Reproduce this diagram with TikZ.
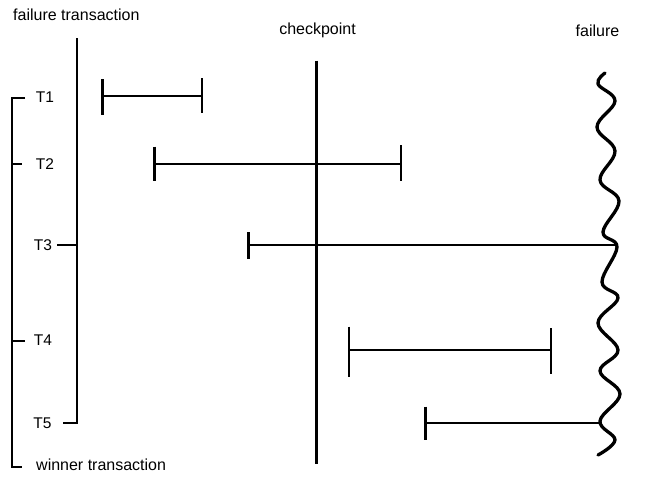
\documentclass[tikz,border=0pt]{standalone}
\usepackage{fontspec}
\setmainfont{Liberation Sans}
\begin{document}
\begin{tikzpicture}[x=1pt,y=-1pt,
  lbl/.style={inner sep=0pt, font=\fontsize{16}{18}\selectfont},
  tlbl/.style={inner sep=0pt, anchor=base, font=\fontsize{15.5}{18}\selectfont},
  thin line/.style={line width=2pt},
  bar/.style={line width=2pt},
  endtick/.style={line width=2.5pt},
  chk/.style={line width=3pt},
  wave/.style={line width=3.3pt, line join=round, line cap=round}]
\useasboundingbox (0,0) rectangle (650,482);

% texts
\node[lbl, anchor=base west] (ftxt) at (13,20) {failure transaction};
\node[lbl, anchor=base west] (wtxt) at (36,470.7) {winner transaction};
\node[lbl, anchor=base] (ctxt) at (317.5,34.3) {checkpoint};
\node[lbl, anchor=base] (fatxt) at (597.5,36) {failure};
\node[tlbl] (t1) at (45,102.7) {T1};
\node[tlbl] (t2) at (45,169) {T2};
\node[tlbl] (t3) at (43,250.7) {T3};
\node[tlbl] (t4) at (43,345.3) {T4};
\node[tlbl] (t5) at (42.5,428.3) {T5};

% left bracket (winner)
\coordinate (wb1) at (11.5,97.5);
\coordinate (wb2) at (11.5,466.5);
\coordinate (wt1) at (25,97.5);
\coordinate (wt2) at (22,164);
\coordinate (wt2b) at (11.5,164);
\coordinate (wt4) at (25,340.5);
\coordinate (wt4b) at (11.5,340.5);
\coordinate (wt6) at (22,466.5);
\draw[thin line] (wt1) -- (wb1) -- (wb2) -- (wt6);
\draw[thin line] (wt2b) -- (wt2);
\draw[thin line] (wt4b) -- (wt4);

% failure bracket
\coordinate (fb1) at (76.7,38);
\coordinate (fb2) at (76.7,423.3);
\coordinate (ft3) at (57,245);
\coordinate (ft3b) at (76.7,245);
\coordinate (ft5) at (63,423.3);
\draw[thin line] (fb1) -- (fb2) -- (ft5);
\draw[thin line] (ft3) -- (ft3b);

% checkpoint
\coordinate (ck1) at (316,60.5);
\coordinate (ck2) at (316,463.5);
\draw[chk] (ck1) -- (ck2);

% failure wave
\draw[wave] plot[smooth, tension=0.65] coordinates {(605,73) (598,84) (615,101) (597,127) (615,151) (600,180) (619,201) (603,232) (617,247) (602,282) (618,298) (598,323) (618,350) (600,371) (620,394) (600,421) (615,440) (598,455)};

% T1
\coordinate (a1) at (102.7,96); \coordinate (b1) at (202,96);
\draw[bar] (a1) -- (b1);
\draw[endtick] (102.7,79) -- (102.7,115);
\draw[endtick] (202,78.3) -- (202,113.3);
% T2
\coordinate (a2) at (154.5,164); \coordinate (b2) at (401,164);
\draw[bar] (a2) -- (b2);
\draw[endtick] (154.5,146.7) -- (154.5,180.7);
\draw[endtick] (401,145) -- (401,180.7);
% T3
\coordinate (a3) at (248.3,245); \coordinate (b3) at (617,245);
\draw[bar] (a3) -- (b3);
\draw[endtick] (248.3,232.3) -- (248.3,259.3);
% T4
\coordinate (a4) at (349,350); \coordinate (b4) at (551,350);
\draw[bar] (a4) -- (b4);
\draw[endtick] (349,326.7) -- (349,376.7);
\draw[endtick] (551,328) -- (551,374.3);
% T5
\coordinate (a5) at (425.5,422.7); \coordinate (b5) at (600,422.7);
\draw[bar] (a5) -- (b5);
\draw[endtick] (425.5,406.7) -- (425.5,440);
\end{tikzpicture}
\end{document}
